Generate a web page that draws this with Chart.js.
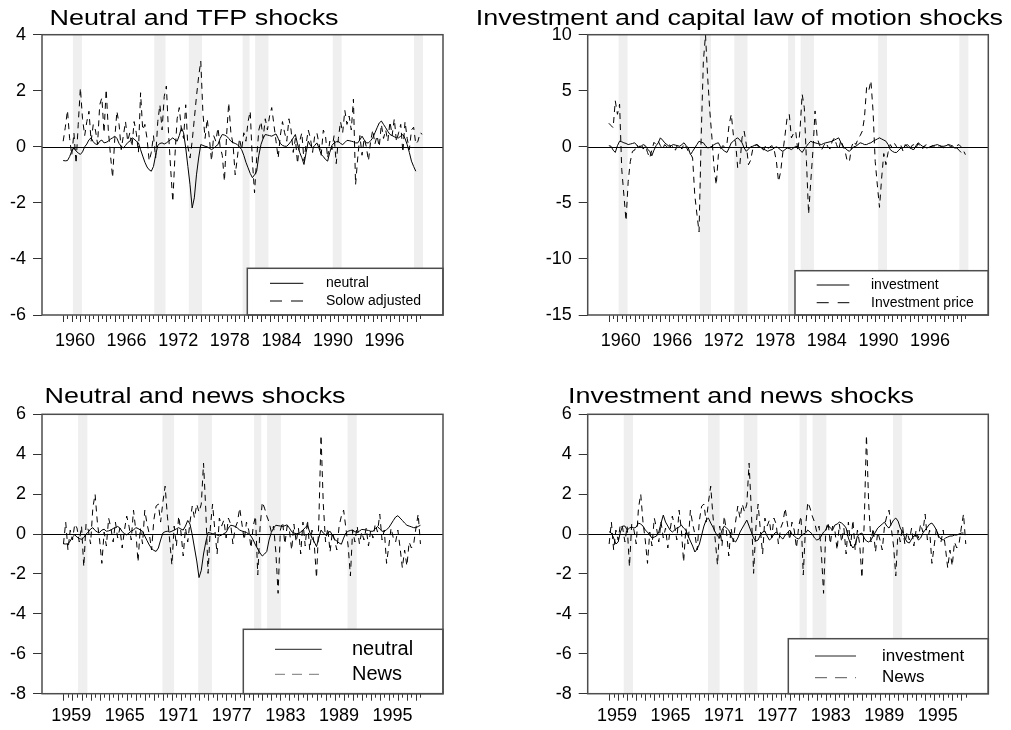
<!DOCTYPE html>
<html><head><meta charset="utf-8">
<script src="https://cdn.jsdelivr.net/npm/chart.js@4.4.1/dist/chart.umd.min.js"></script>
<style>
html,body{margin:0;padding:0;background:#fff;width:1011px;height:730px;overflow:hidden;position:relative}
canvas{position:absolute}
</style></head><body>
<canvas id="c1" width="505" height="365" style="left:0;top:0"></canvas>
<canvas id="c2" width="551" height="365" style="left:460px;top:0"></canvas>
<canvas id="c3" width="505" height="365" style="left:0;top:365px"></canvas>
<canvas id="c4" width="551" height="365" style="left:460px;top:365px"></canvas>
<script>
// ---------------- DATA ----------------
const titles = ["Neutral and TFP shocks", "Investment and capital law of motion shocks", "Neutral and news shocks", "Investment and news shocks"];
const yearLabelsTop = [1960, 1966, 1972, 1978, 1984, 1990, 1996];
const yearLabelsBottom = [1959, 1965, 1971, 1977, 1983, 1989, 1995];
const yTicksP1 = [-6, -4, -2, 0, 2, 4];
const yTicksP2 = [-15, -10, -5, 0, 5, 10];
const yTicksP34 = [-8, -6, -4, -2, 0, 2, 4, 6];
const recessions = [[1959.76, 1960.80], [1969.22, 1970.52], [1973.23, 1974.76], [1979.49, 1980.30], [1980.95, 1982.49], [1989.97, 1991.0], [1999.42, 2000.47]];
// quarterly observations: first date and spacing (years) as laid out in each row of panels
const startTop = 1958.625, stepTop = 0.25;
const startBottom = 1958.12, stepBottom = 0.2533;

const neutral = [-0.49,-0.50,-0.49,-0.35,-0.15,-0.04,-0.15,-0.22,-0.27,-0.18,
 0.00,0.10,0.25,0.32,0.18,0.10,0.08,0.20,0.24,0.14,
 0.16,0.20,0.28,0.32,0.38,0.30,0.12,0.02,-0.04,0.05,
 0.15,0.20,0.32,0.28,0.20,0.14,-0.10,-0.33,-0.55,-0.72,
 -0.82,-0.87,-0.70,-0.30,0.05,0.12,0.14,0.10,0.14,0.20,
 0.26,0.32,0.25,0.20,0.40,0.68,0.50,-0.04,-0.70,-1.35,
 -2.18,-1.82,-1.00,-0.40,0.08,0.05,0.02,0.00,-0.05,-0.10,
 -0.05,0.02,0.08,0.30,0.44,0.42,0.38,0.30,0.20,0.15,
 0.12,0.08,0.00,-0.10,-0.30,-0.55,-0.75,-0.95,-1.10,-1.00,
 -0.87,-0.30,0.08,0.30,0.44,0.42,0.40,0.38,0.42,0.46,
 0.30,0.12,0.05,0.02,0.02,0.10,0.20,0.32,0.44,0.10,
 -0.20,-0.39,-0.63,-0.20,0.20,0.05,-0.04,0.05,0.14,-0.05,
 -0.27,-0.35,-0.45,-0.51,-0.20,0.05,0.14,0.18,0.20,0.12,
 0.08,0.15,0.23,0.22,0.20,0.18,0.14,0.14,0.25,0.38,
 0.25,0.14,0.14,0.22,0.32,0.50,0.68,0.85,0.92,0.80,
 0.68,0.55,0.44,0.40,0.36,0.32,0.32,0.38,0.44,0.30,
 0.08,-0.20,-0.51,-0.70,-0.87];

const solowAdjusted = [0.2,0.7,1.3,0.3,-0.3,0.5,-0.6,0.8,2.1,1.0,
 0.4,0.9,1.27,0.2,0.8,0.6,0.1,1.5,1.75,0.5,
 2.05,0.6,-0.3,-1.1,0.3,1.27,0.8,-0.1,0.4,0.9,
 0.2,0.5,0.0,0.9,0.5,-0.2,1.93,0.6,0.8,0.3,
 -0.5,-0.2,0.4,-0.4,0.9,1.5,0.6,1.8,2.17,0.5,
 -0.8,-1.96,-0.3,1.0,1.4,0.6,0.3,1.5,0.0,-0.4,
 0.2,1.0,1.8,2.5,3.06,1.2,0.3,1.0,0.3,-0.5,
 0.4,0.2,0.68,0.0,-0.3,-1.23,0.4,1.57,0.5,0.1,
 -1.0,-0.4,0.3,-0.1,0.5,0.2,0.9,1.27,-0.5,-1.64,
 -0.4,0.6,0.9,0.3,1.0,0.6,1.1,1.4,0.8,0.2,
 -0.4,0.4,0.9,0.5,0.2,1.0,0.6,-0.2,0.3,-0.6,
 0.2,0.5,-0.5,0.1,0.6,0.3,-0.2,0.4,0.5,0.1,
 -0.3,0.6,0.4,-0.4,0.2,-0.1,0.4,-0.6,0.3,0.9,
 0.5,1.3,0.8,1.1,0.6,1.7,-1.35,-0.4,0.4,-0.3,
 0.3,0.0,-0.5,0.2,0.6,0.1,0.4,0.0,0.8,0.3,
 0.6,0.2,0.9,0.4,1.0,0.2,0.5,0.8,-0.2,0.9,
 0.3,-0.1,0.6,0.7,0.1,0.2,0.5,0.45];

const investmentTop = [0.1,0.05,-0.3,-0.5,0.1,0.5,0.45,0.36,0.3,0.2,
 0.25,0.3,0.36,0.15,-0.1,0.05,0.2,0.1,-0.2,-0.4,
 -0.8,-0.3,0.1,0.36,0.8,0.6,0.36,0.2,0.05,0.1,
 0.2,0.15,0.1,0.05,0.2,0.36,0.1,-0.1,-0.7,-0.4,
 -0.1,0.2,0.5,0.4,0.36,0.1,-0.1,-0.05,0.05,0.2,
 0.3,0.36,0.0,-0.25,-0.4,-0.5,-0.1,0.36,0.5,0.7,
 0.8,0.6,0.36,-0.1,-0.4,-0.2,0.0,0.05,0.15,0.2,
 0.05,-0.1,-0.2,-0.3,-0.4,-0.3,-0.25,-0.1,0.0,-0.1,
 -0.3,-0.4,-0.25,-0.1,-0.15,-0.25,-0.1,0.05,0.0,-0.3,
 -0.5,-0.2,0.05,0.3,0.5,0.4,0.36,0.3,0.25,0.2,
 0.3,0.36,0.4,0.45,0.5,0.6,0.7,0.8,0.4,0.0,
 -0.1,-0.3,-0.4,-0.2,0.0,0.05,0.2,0.36,0.3,0.2,
 0.2,0.3,0.36,0.5,0.6,0.7,0.8,0.7,0.6,0.5,
 0.2,-0.25,-0.4,-0.5,-0.5,-0.3,-0.1,-0.1,0.1,0.2,
 0.0,-0.2,-0.25,0.1,0.36,0.2,0.05,0.0,-0.1,-0.05,
 0.05,0.1,0.15,0.2,0.1,0.05,0.05,0.1,0.2,0.15,
 0.05,-0.1,-0.1,-0.3,-0.5];

const investmentPrice = [2.1,1.9,1.7,4.1,2.9,3.8,-2.0,-4.3,-6.6,-3.1,
 -1.3,-0.4,-0.3,0.2,-0.1,0.3,-0.2,0.1,-0.5,-1.0,
 -0.3,0.4,0.2,0.5,0.1,-0.2,0.2,0.0,0.3,-0.1,
 0.1,-0.3,0.2,0.1,-0.2,0.3,0.0,-0.4,-0.6,-1.0,
 -4.3,-6.0,-7.6,1.0,7.6,10.0,6.2,3.2,0.8,-1.9,
 -3.4,-0.7,-0.2,0.1,0.0,0.3,2.0,2.9,1.0,0.4,
 -1.9,-1.6,0.8,1.4,0.2,-1.6,-1.2,-0.2,0.1,0.2,
 -0.1,0.0,-0.3,0.1,-0.2,0.0,0.1,-0.3,-1.3,-3.1,
 -2.2,-0.5,1.0,2.6,2.9,0.8,1.2,1.4,-0.4,1.5,
 4.7,3.5,-1.3,-6.0,-3.1,-0.4,3.2,0.8,0.2,-0.3,
 0.1,0.4,0.0,-0.2,0.5,0.8,0.2,-0.3,0.6,0.1,
 -0.4,-1.3,-1.3,0.0,0.5,0.2,0.7,1.0,1.4,2.6,
 5.3,5.0,5.9,3.2,-1.3,-3.4,-5.4,-2.8,-0.6,-1.6,
 -0.5,0.2,-0.1,0.3,0.0,-0.2,0.1,-0.4,0.2,0.0,
 -0.3,0.1,0.2,-0.1,0.3,0.0,-0.2,0.1,0.2,-0.1,
 0.0,0.1,-0.1,0.0,0.1,0.0,-0.1,0.1,0.2,0.0,
 0.1,0.0,0.1,0.2,0.0,-0.3,-0.7];

const investmentBottom = [0.12,0.05,-0.2,-0.5,-0.4,0.1,0.4,0.4,0.2,0.3,
 0.35,0.3,0.35,0.55,0.5,0.4,0.2,0.1,-0.05,-0.2,
 -0.15,-0.1,0.1,0.55,0.95,0.6,0.4,0.2,0.1,0.2,
 0.3,0.35,0.45,0.3,0.2,-0.1,-0.35,-0.6,-0.9,-0.75,
 -0.5,-0.05,0.4,0.7,0.8,0.55,0.35,0.1,-0.1,-0.2,
 0.2,0.4,0.3,0.2,-0.1,-0.3,-0.4,-0.2,0.1,0.3,
 0.5,0.7,0.4,0.1,-0.2,-0.35,-0.3,-0.05,0.1,0.15,
 -0.1,-0.3,-0.2,0.0,0.1,0.0,-0.15,-0.25,-0.05,0.05,
 0.2,0.0,-0.1,-0.2,-0.25,-0.1,0.0,0.05,0.2,0.1,
 0.0,-0.2,-0.3,-0.25,-0.1,0.1,0.2,0.45,0.3,0.2,
 0.45,0.5,0.6,0.55,0.45,0.3,-0.2,-0.5,-0.7,-0.55,
 -0.1,0.0,0.05,-0.2,-0.35,-0.4,-0.3,-0.1,0.1,0.3,
 0.4,0.5,0.6,0.4,0.3,0.5,0.7,0.8,0.65,0.3,
 0.1,-0.2,-0.4,-0.45,-0.25,-0.1,-0.05,-0.3,-0.2,0.05,
 0.2,0.35,0.5,0.55,0.4,0.2,-0.1,-0.25,-0.3,-0.2,
 -0.15,-0.1,-0.1,-0.05,-0.05,0.0,0.05,0.05];

const news = [-0.5,0.6,-0.8,0.2,-0.3,0.5,0.3,-0.4,0.4,-1.64,
 0.5,0.2,-0.5,1.3,2.0,0.6,-0.3,-1.47,0.1,-0.6,
 0.8,0.3,-0.4,0.6,-0.2,0.3,-0.7,0.2,0.9,0.4,
 -0.3,1.2,0.2,-1.4,0.3,-0.5,1.2,0.5,0.0,-0.8,
 0.7,1.4,1.5,0.6,1.6,2.4,0.9,-0.3,-1.55,0.4,
 -0.6,0.9,0.1,-1.1,0.3,-0.4,0.6,1.4,0.8,1.5,
 1.1,1.5,3.55,1.2,-1.97,0.3,1.5,0.2,-1.0,0.8,
 0.4,0.7,-0.2,0.8,0.5,-0.5,0.3,0.6,1.3,0.5,
 -0.3,0.6,0.2,-0.7,0.4,0.9,-2.05,0.3,1.6,1.3,
 0.9,0.6,0.1,0.4,-0.9,-2.97,0.2,0.6,-0.5,0.4,
 0.2,-0.8,0.5,-0.4,0.3,-1.0,0.6,-0.6,0.7,-0.8,
 0.2,-0.5,-2.2,0.5,4.95,1.5,-0.4,0.3,-0.9,0.1,
 -0.3,-0.8,0.4,0.9,1.2,0.3,-0.6,-2.1,0.2,-0.4,
 0.4,-0.5,0.1,-0.3,0.3,-0.6,0.2,-0.2,0.5,0.1,
 1.0,-0.3,0.2,-1.47,-0.6,0.3,-0.2,-0.4,0.2,-0.7,
 -1.7,-0.8,-1.6,-0.4,-0.7,-0.5,0.3,1.0,-0.5];

// ---------------- RENDERING ----------------
const FONT = "'Liberation Sans', Arial, Helvetica, sans-serif";
Chart.defaults.font.family = FONT;
Chart.defaults.color = '#000';

function pts(vals, start, step) { return vals.map((v, i) => ({ x: start + i * step, y: v })); }

const decor = {
  id: 'decor',
  beforeDatasetsDraw(chart, _a, o) {
    const { ctx, chartArea: a, scales: { x } } = chart;
    ctx.save();
    ctx.fillStyle = '#efefef';
    for (const [s, e] of o.bands) {
      const x0 = Math.max(a.left, x.getPixelForValue(s));
      const x1 = Math.min(a.right, x.getPixelForValue(e));
      if (x1 > x0) ctx.fillRect(x0, a.top, x1 - x0, a.bottom - a.top);
    }
    ctx.restore();
  },
  afterDatasetsDraw(chart, _a, o) {
    const { ctx, chartArea: a, scales: { x, y } } = chart;
    ctx.save();
    ctx.setLineDash([]);
    const y0 = Math.round(y.getPixelForValue(0)) + 0.5;
    ctx.strokeStyle = '#000'; ctx.lineWidth = 1;
    ctx.beginPath(); ctx.moveTo(a.left, y0); ctx.lineTo(a.right, y0); ctx.stroke();
    // legend
    const L = o.legend;
    ctx.fillStyle = '#fff';
    ctx.fillRect(L.box[0], L.box[1], L.box[2] - L.box[0], L.box[3] - L.box[1]);
    ctx.strokeStyle = '#4d4d4d'; ctx.lineWidth = 1.5;
    ctx.strokeRect(L.box[0], L.box[1], L.box[2] - L.box[0], L.box[3] - L.box[1]);
    chart.data.datasets.forEach((ds, i) => {
      const ry = L.rows[i];
      ctx.strokeStyle = L.sampleColor[i]; ctx.lineWidth = 1;
      ctx.setLineDash(L.dash[i]);
      ctx.beginPath(); ctx.moveTo(L.sx[0], ry); ctx.lineTo(L.sx[1], ry); ctx.stroke();
      ctx.setLineDash([]);
      ctx.fillStyle = '#000'; ctx.font = L.size + 'px ' + FONT;
      ctx.textBaseline = 'middle'; ctx.textAlign = 'left';
      ctx.fillText(ds.label, L.tx, ry);
    });
    // plot box
    ctx.strokeStyle = '#4d4d4d'; ctx.lineWidth = 1.5;
    ctx.strokeRect(a.left, a.top, a.right - a.left, a.bottom - a.top);
    // minor ticks along the observation span
    ctx.strokeStyle = '#333'; ctx.lineWidth = 1;
    ctx.beginPath();
    let k = 0;
    for (let v = o.tickFrom; v <= o.tickTo + 1e-6; v += o.tickStep, k++) {
      const px = Math.round(x.getPixelForValue(v)) + 0.5;
      ctx.moveTo(px, a.bottom + 0.5); ctx.lineTo(px, a.bottom + (k % 2 ? 4 : 7));
    }
    ctx.stroke();
    ctx.restore();
  },
  afterDraw(chart, _a, o) {
    const { ctx } = chart; const t = o.title;
    ctx.save();
    ctx.font = t.size + 'px ' + FONT; ctx.fillStyle = '#000';
    ctx.textBaseline = 'alphabetic'; ctx.textAlign = 'left';
    ctx.translate(t.x, t.y); ctx.scale(t.sx, 1);
    ctx.fillText(t.text, 0, 0);
    ctx.restore();
  }
};

function makePanel(id, p) {
  const lastX = Math.max(...p.series.map(s => s.start + (s.values.length - 1) * s.step));
  new Chart(document.getElementById(id), {
    type: 'line',
    data: {
      datasets: p.series.map(s => ({
        label: s.label, data: pts(s.values, s.start, s.step),
        borderColor: '#000', borderWidth: 1, borderDash: s.dash,
        pointRadius: 0, tension: 0, fill: false
      }))
    },
    options: {
      responsive: false, animation: false, devicePixelRatio: 1,
      layout: { padding: { left: 0, top: p.padTop, right: p.padRight, bottom: 0 } },
      plugins: {
        legend: { display: false }, title: { display: false }, tooltip: { enabled: false },
        decor: {
          bands: recessions.filter(b => b[0] < lastX),
          tickFrom: p.series[0].start, tickTo: lastX, tickStep: 2 * p.series[0].step,
          legend: p.legend,
          title: { text: p.title, x: p.titleX, y: p.titleY, size: 22, sx: 1.225 }
        }
      },
      scales: {
        x: {
          type: 'linear', min: p.xMin, max: p.xMax,
          afterBuildTicks: s => { s.ticks = p.xLabels.map(v => ({ value: v })); },
          afterFit: s => { s.height = p.xHeight; },
          grid: { display: false, drawTicks: false }, border: { display: false },
          ticks: { autoSkip: false, maxRotation: 0, padding: p.xPad, color: '#000',
                   font: { size: 18, family: FONT }, callback: v => String(v) }
        },
        y: {
          type: 'linear', min: p.yTicks[0], max: p.yTicks[p.yTicks.length - 1],
          afterBuildTicks: s => { s.ticks = p.yTicks.map(v => ({ value: v })); },
          afterFit: s => { s.width = p.yWidth; },
          grid: { display: true, drawOnChartArea: false, drawTicks: true, tickLength: 9, color: '#333', lineWidth: 1 },
          border: { display: false },
          ticks: { padding: 7, color: '#000', font: { size: 18, family: FONT }, callback: v => String(v) }
        }
      }
    },
    plugins: [decor]
  });
}

const xMinTop = 1956.163, xMaxTop = 2002.79;
const xMinBottom = 1955.715, xMaxBottom = 2000.67;
const dashData = [6, 5];

makePanel('c1', {
  title: titles[0], titleX: 49.5, titleY: 24.5,
  padTop: 34.7, padRight: 62, yWidth: 42, xHeight: 50, xPad: 15,
  xMin: xMinTop, xMax: xMaxTop, xLabels: yearLabelsTop, yTicks: yTicksP1,
  series: [
    { label: 'neutral', values: neutral, start: startTop, step: stepTop, dash: [] },
    { label: 'Solow adjusted', values: solowAdjusted, start: startTop, step: stepTop, dash: dashData }
  ],
  legend: { box: [247.3, 268.3, 443, 315], sx: [270, 303.3], rows: [283.3, 301], tx: 326, size: 14,
            dash: [[], [12, 9]], sampleColor: ['#000', '#000'] }
});

makePanel('c2', {
  title: titles[1], titleX: 15.8, titleY: 24.5,
  padTop: 34.7, padRight: 22.7, yWidth: 127.7, xHeight: 50, xPad: 15,
  xMin: xMinTop, xMax: xMaxTop, xLabels: yearLabelsTop, yTicks: yTicksP2,
  series: [
    { label: 'investment', values: investmentTop, start: startTop, step: stepTop, dash: [] },
    { label: 'Investment price', values: investmentPrice, start: startTop, step: stepTop, dash: dashData }
  ],
  legend: { box: [335, 270.7, 528.3, 315], sx: [356.7, 389.3], rows: [285, 302.7], tx: 411, size: 14,
            dash: [[], [12, 9]], sampleColor: ['#000', '#000'] }
});

makePanel('c3', {
  title: titles[2], titleX: 44.5, titleY: 37.5,
  padTop: 49.3, padRight: 62, yWidth: 42, xHeight: 36.3, xPad: 12,
  xMin: xMinBottom, xMax: xMaxBottom, xLabels: yearLabelsBottom, yTicks: yTicksP34,
  series: [
    { label: 'neutral', values: neutral.slice(0, 159), start: startBottom, step: stepBottom, dash: [] },
    { label: 'News', values: news, start: startBottom, step: stepBottom, dash: dashData }
  ],
  legend: { box: [243.3, 264.3, 443, 328.7], sx: [275, 321.7], rows: [284.3, 309.3], tx: 352, size: 20,
            dash: [[], [10, 7]], sampleColor: ['#222', '#777'] }
});

makePanel('c4', {
  title: titles[3], titleX: 108, titleY: 37.5,
  padTop: 49.3, padRight: 22.7, yWidth: 127.7, xHeight: 36.3, xPad: 12,
  xMin: xMinBottom, xMax: xMaxBottom, xLabels: yearLabelsBottom, yTicks: yTicksP34,
  series: [
    { label: 'investment', values: investmentBottom, start: startBottom, step: stepBottom, dash: [] },
    { label: 'News', values: news, start: startBottom, step: stepBottom, dash: dashData }
  ],
  legend: { box: [328.3, 273.7, 528.3, 328.7], sx: [355, 396], rows: [291, 312.7], tx: 422, size: 17,
            dash: [[], [12, 8]], sampleColor: ['#222', '#555'] }
});
</script>
</body></html>
